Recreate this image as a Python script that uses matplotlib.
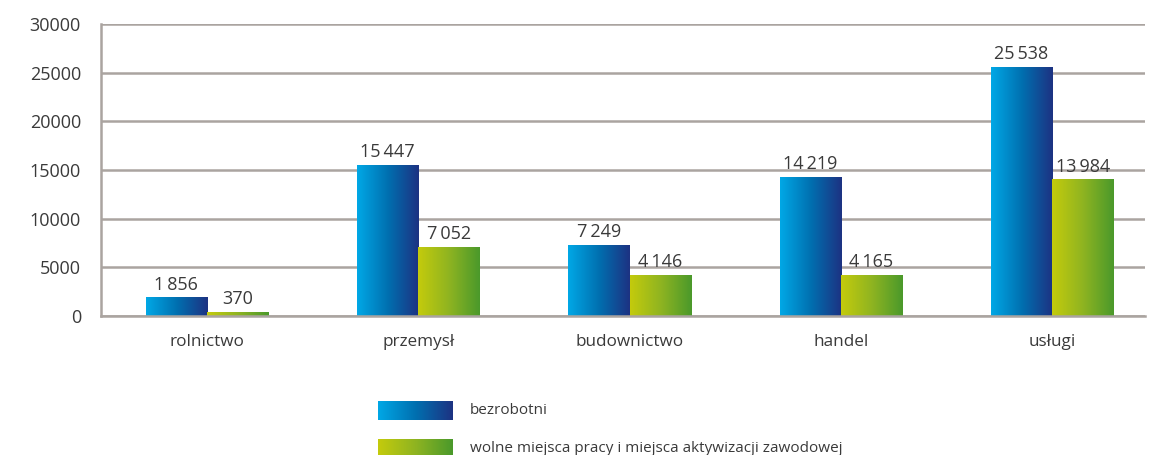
import numpy as np
import matplotlib
matplotlib.use("Agg")
import matplotlib.pyplot as plt
from matplotlib.colors import LinearSegmentedColormap

# dane z wykresu
sektory = ["rolnictwo", "przemysł", "budownictwo", "handel", "usługi"]
bezrobotni = [1856, 15447, 7249, 14219, 25538]
wolne_miejsca = [370, 7052, 4146, 4165, 13984]
seria_nazwy = ["bezrobotni", "wolne miejsca pracy i miejsca aktywizacji zawodowej"]
y_ticks = [0, 5000, 10000, 15000, 20000, 25000, 30000]

plt.rcParams["font.family"] = ["Open Sans", "DejaVu Sans"]
txt_color = "#3a3a3a"
grid_color = "#aaa4a0"

cmap_blue = LinearSegmentedColormap.from_list("b", ["#00a8e6", "#0070b0", "#1d3282"])
cmap_green = LinearSegmentedColormap.from_list("g", ["#c4cb0c", "#8fb421", "#4a992b"])
grad = np.linspace(0, 1, 256).reshape(1, -1)


def fmt(v):
    return f"{v:,}".replace(",", "\u2009")


def gradient_bars(ax, xs, vals, width, cmap):
    bars = ax.bar(xs, vals, width, align="edge", color="none", zorder=3)
    for b in bars:
        x0 = b.get_x()
        ax.imshow(grad, cmap=cmap, extent=[x0, x0 + b.get_width(), 0, b.get_height()],
                  aspect="auto", zorder=3, interpolation="bicubic")
    return bars


fig = plt.figure(figsize=(11.54, 4.55), dpi=100)
ax = fig.add_axes([101 / 1154, 1 - 316 / 455, (1145 - 101) / 1154, (316 - 24) / 455])

x = np.arange(len(sektory))
w = 0.29
b1 = gradient_bars(ax, x - w, bezrobotni, w, cmap_blue)
b2 = gradient_bars(ax, x, wolne_miejsca, w, cmap_green)

for bars, vals in ((b1, bezrobotni), (b2, wolne_miejsca)):
    for b, v in zip(bars, vals):
        ax.text(b.get_x() + b.get_width() / 2, v + 450, fmt(v), ha="center", va="bottom",
                fontsize=13, color=txt_color)

ax.set_xlim(-0.502, 4.44)
ax.set_ylim(0, 30000)
ax.set_yticks(y_ticks)
ax.set_yticklabels([str(t) for t in y_ticks])
ax.set_xticks(x)
ax.set_xticklabels(sektory)
ax.tick_params(axis="both", length=0, labelcolor=txt_color)
ax.tick_params(axis="y", pad=14.4, labelsize=13)
ax.tick_params(axis="x", pad=13, labelsize=12.3)
ax.grid(axis="y", color=grid_color, linewidth=1.8, zorder=1)
ax.set_axisbelow(True)
for s in ("top", "right"):
    ax.spines[s].set_visible(False)
for s in ("left", "bottom"):
    ax.spines[s].set_color(grid_color)
    ax.spines[s].set_linewidth(1.8)
    ax.spines[s].set_zorder(4)

# legenda z gradientem
for i, (name, cmap) in enumerate(zip(seria_nazwy, (cmap_blue, cmap_green))):
    top = 401 + i * 38
    lax = fig.add_axes([378 / 1154, 1 - (top + 19) / 455, 74 / 1154, 19 / 455])
    lax.imshow(grad, cmap=cmap, aspect="auto", interpolation="bicubic")
    lax.axis("off")
    fig.text(470 / 1154, 1 - (top + 9.5) / 455, name, ha="left", va="center",
             fontsize=11, color=txt_color)

fig.savefig("out.png", dpi=100)
